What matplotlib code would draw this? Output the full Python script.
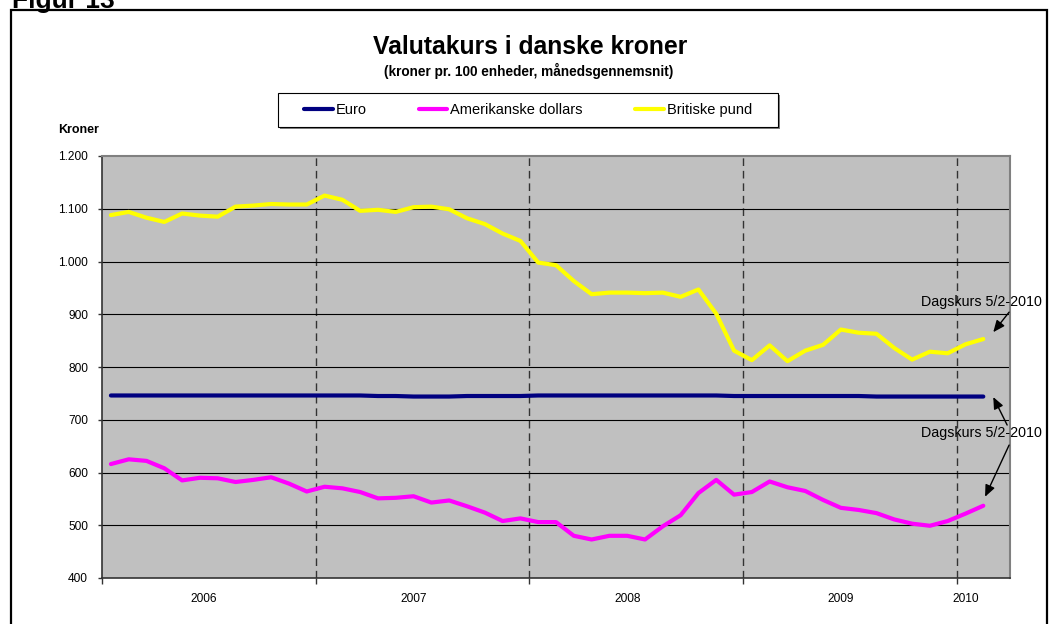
import numpy as np
import matplotlib
matplotlib.use('Agg')
import matplotlib.pyplot as plt
from matplotlib.patches import Rectangle

plt.rcParams['font.family'] = ['Liberation Sans', 'DejaVu Sans']

# månedsgennemsnit jan 2006 - jan 2010, sidste punkt = dagskurs 5/2-2010
euro = [746, 746, 746, 746, 746, 746, 746, 746, 746, 746, 746, 746,
        746, 746, 746, 745, 745, 744, 744, 744, 745, 745, 745, 745,
        746, 746, 746, 746, 746, 746, 746, 746, 746, 746, 746, 745,
        745, 745, 745, 745, 745, 745, 745, 744, 744, 744, 744, 744,
        744, 744]
usd = [616, 625, 622, 608, 585, 590, 589, 582, 586, 591, 579, 564,
       573, 570, 563, 551, 552, 555, 543, 547, 536, 524, 508, 513,
       506, 506, 480, 473, 480, 480, 473, 498, 519, 561, 586, 558,
       563, 583, 572, 565, 548, 533, 529, 523, 511, 503, 499, 508,
       522, 537]
gbp = [1088, 1094, 1083, 1075, 1091, 1087, 1085, 1104, 1106, 1109, 1108, 1108,
       1125, 1117, 1096, 1098, 1094, 1103, 1104, 1099, 1082, 1071, 1053, 1039,
       998, 993, 963, 938, 941, 941, 940, 941, 933, 947, 901, 831,
       813, 841, 811, 831, 842, 871, 865, 863, 836, 814, 829, 826,
       843, 853]

years = ['2006', '2007', '2008', '2009', '2010']
year_label_pos = [5.2, 17, 29, 41, 48]
n_cat = 51
y_ticks = list(range(400, 1201, 100))

W, H = 1058, 624
fig = plt.figure(figsize=(W / 100, H / 100), dpi=100)


def fx(px):
    return px / W


def fy(py):
    return 1 - py / H


# ramme og "Figur 13"
fig.add_artist(Rectangle((fx(11), fy(700)), fx(1047) - fx(11), fy(10) - fy(700),
                         transform=fig.transFigure, fill=False, lw=1.6, color='black'))
fig.text(fx(12), fy(8), 'Figur 13', fontsize=19, fontweight='bold', va='baseline', ha='left')

fig.text(fx(530), fy(47), 'Valutakurs i danske kroner', fontsize=17.8, fontweight='bold',
         ha='center', va='center')
fig.text(fx(529), fy(71), '(kroner pr. 100 enheder, månedsgennemsnit)', fontsize=9.8,
         fontweight='bold', ha='center', va='center')
fig.text(fx(58), fy(130), 'Kroner', fontsize=9, fontweight='bold', ha='left', va='center')

ax = fig.add_axes([fx(102), fy(578), fx(1010) - fx(102), fy(156) - fy(578)])
ax.set_facecolor('#C0C0C0')

x = np.arange(len(gbp))
l1, = ax.plot(x, euro, color='#000080', lw=3, solid_capstyle='round', zorder=5)
l2, = ax.plot(x, usd, color='#FF00FF', lw=3, solid_capstyle='round', zorder=5)
l3, = ax.plot(x, gbp, color='#FFFF00', lw=3, solid_capstyle='round', zorder=5)

ax.set_xlim(-0.5, n_cat - 0.5)
ax.set_ylim(400, 1200)

for v in y_ticks[1:-1]:
    ax.axhline(v, color='black', lw=0.8, zorder=2)
boundaries = np.arange(-0.5, len(gbp), 12)
for b in boundaries[1:]:
    ax.axvline(b, color='#333333', lw=1, linestyle=(0, (5.5, 3.5)), zorder=1)

ax.set_yticks(y_ticks)
ax.set_yticklabels([f'{v:,}'.replace(',', '.') for v in y_ticks])
ax.tick_params(axis='y', direction='out', length=3, width=1, pad=7, labelsize=8.6,
               color='#333333')
ax.set_xticks(boundaries)
ax.set_xticklabels([])
ax.set_xticks(year_label_pos, minor=True)
ax.set_xticklabels(years, minor=True)
ax.tick_params(axis='x', which='major', direction='out', length=4.5, width=1, color='#333333')
ax.tick_params(axis='x', which='minor', length=0, pad=11, labelsize=8.6)

for side in ['left', 'bottom']:
    ax.spines[side].set_color('#333333')
    ax.spines[side].set_linewidth(1.2)
for side in ['top', 'right']:
    ax.spines[side].set_color('#808080')
    ax.spines[side].set_linewidth(1.5)

# dagskurs-annoteringer
arrow = dict(arrowstyle='-|>,head_length=0.7,head_width=0.3', color='black', lw=1,
             shrinkA=0, shrinkB=0)
ax.text(48.9, 923, 'Dagskurs 5/2-2010', fontsize=10.3, ha='center', va='center')
ax.annotate('', xy=(49.56, 866), xytext=(50.45, 904), arrowprops=arrow)
ax.text(48.9, 675, 'Dagskurs 5/2-2010', fontsize=10.3, ha='center', va='center')
ax.annotate('', xy=(49.56, 743), xytext=(50.34, 690), arrowprops=arrow)
ax.annotate('', xy=(49.1, 554), xytext=(50.45, 652), arrowprops=arrow)

# forklaring
fig.add_artist(Rectangle((fx(280), fy(129)), fx(780) - fx(280), fy(95) - fy(129),
                         transform=fig.transFigure, color='#808080', lw=0))
fig.add_artist(Rectangle((fx(278), fy(127)), fx(778) - fx(278), fy(93) - fy(127),
                         transform=fig.transFigure, facecolor='white', edgecolor='black', lw=0.8))
fig.legend([l1, l2, l3], ['Euro', 'Amerikanske dollars', 'Britiske pund'],
           loc='center', bbox_to_anchor=(fx(528), fy(110)), ncol=3, frameon=False,
           fontsize=10.5, handlelength=1.95, handletextpad=0.2, columnspacing=3.6)

fig.savefig('out.png', dpi=100)
